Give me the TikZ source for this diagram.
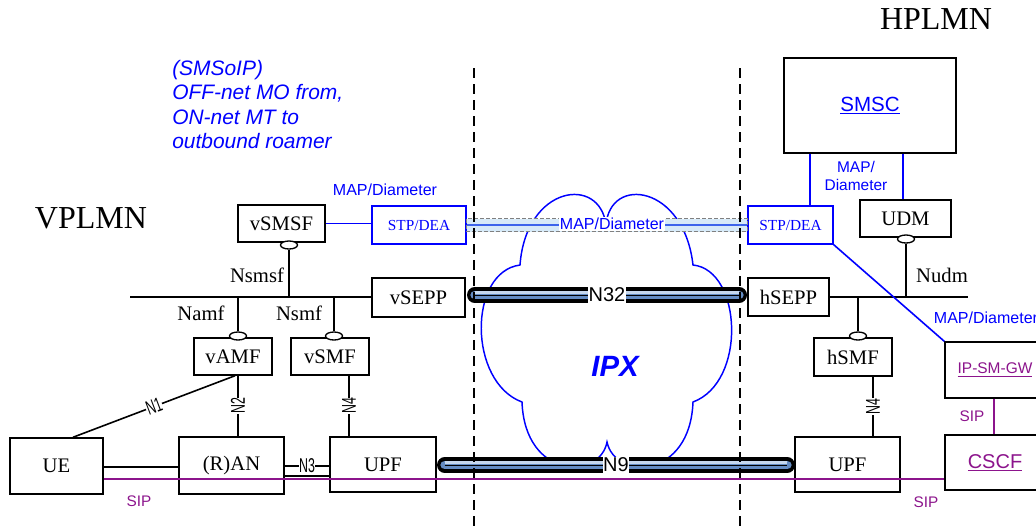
\documentclass[tikz,border=0pt]{standalone}
\usepackage{fontspec}
\setmainfont{Liberation Serif}
\setsansfont{Liberation Sans}
\usepackage{graphicx}
\usetikzlibrary{calc,shapes.geometric}
\definecolor{sipc}{RGB}{140,20,140}
\definecolor{pipeL}{RGB}{198,216,238}
\definecolor{pipeD}{RGB}{100,140,195}
\definecolor{mapfill}{RGB}{214,234,248}
\definecolor{mapline}{RGB}{60,100,235}
\def\pxu{0.75pt}
\newcommand\drawpipe[2]{%
 \draw[line width=11.6pt, line cap=round] #1 -- #2;
 \draw[line width=6.6pt, pipeD, line cap=round] #1 -- #2;
 \draw[line width=2.6pt, pipeL, transform canvas={yshift=1.7pt}] #1 -- #2;
 \draw[line width=0.7pt] #1 -- #2;
}
\newcommand\cond[1]{\scalebox{0.62}[1]{#1}}
\tikzset{
 box/.style={draw, line width=1.1pt, fill=white, inner sep=0pt, font=\fontsize{15.5}{18}\selectfont},
 bbox/.style={box, draw=blue, text=blue, font=\fontsize{11.5}{14}\selectfont},
 conn/.style={line width=1.2pt},
 bconn/.style={line width=1.2pt, blue},
 pconn/.style={line width=1.2pt, sipc},
 port/.style={draw, ellipse, line width=1pt, fill=white, inner sep=0pt, minimum width=17*\pxu, minimum height=8*\pxu},
 ilab/.style={font=\fontsize{15.5}{18}\selectfont},
 slab/.style={font=\sffamily\fontsize{12}{14}\selectfont, text=blue},
 siplab/.style={font=\sffamily\fontsize{11.5}{13}\selectfont, text=sipc},
 nlab/.style={font=\sffamily\fontsize{15}{16}\selectfont, fill=white, inner sep=0.3pt},
 notelab/.style={anchor=base west, inner sep=0pt, text=blue, font=\sffamily\itshape\fontsize{15.7}{18.75}\selectfont},
 dline/.style={line width=1.1pt, dash pattern=on 7.5pt off 4.5pt},
 plmn/.style={font=\fontsize{24}{28}\selectfont},
}
\begin{document}
\begin{tikzpicture}[x=0.75pt,y=-0.75pt]
\useasboundingbox (0,0) rectangle (1036,526);
\clip (0,0) rectangle (1036,526);

% IPX cloud
\draw[blue, line width=1.1pt] (520,265) .. controls (526,185) and (600,175) .. (606,225)
  .. controls (610,175) and (684,185) .. (693,265)
  .. controls (742,270) and (747,382) .. (693,402)
  .. controls (690,480) and (615,480) .. (607,442)
  .. controls (600,480) and (525,480) .. (522,402)
  .. controls (468,382) and (468,272) .. (520,265) -- cycle;
\node[text=blue, font=\sffamily\bfseries\itshape\fontsize{22}{26}\selectfont] (ipx) at (615,366) {IPX};

% titles and notes
\node[plmn] (vplmn) at (91,218.5) {VPLMN};
\node[plmn] (hplmn) at (936,19.5) {HPLMN};
\node[notelab] (n1) at (172,75) {(SMSoIP)};
\node[notelab] (n2) at (172,99.5) {OFF-net MO from,};
\node[notelab] (n3) at (172,124) {ON-net MT to};
\node[notelab] (n4) at (172,148.5) {outbound roamer};

% boxes
\node[box, minimum width=87*\pxu, minimum height=37*\pxu] (vsmsf) at (281.5,223.5) {vSMSF};
\node[bbox, minimum width=94*\pxu, minimum height=38*\pxu] (stpl) at (419,225) {STP/DEA};
\node[box, minimum width=93*\pxu, minimum height=39*\pxu] (vsepp) at (418.5,297.5) {vSEPP};
\node[box, minimum width=78*\pxu, minimum height=37*\pxu] (vamf) at (233,356.5) {vAMF};
\node[box, minimum width=78*\pxu, minimum height=37*\pxu] (vsmf) at (330,356.5) {vSMF};
\node[box, minimum width=93*\pxu, minimum height=56*\pxu] (ue) at (56.5,466) {UE};
\node[box, minimum width=105*\pxu, minimum height=57*\pxu] (ran) at (231.5,465.5) {(R)AN};
\node[box, minimum width=106*\pxu, minimum height=55*\pxu] (upfl) at (383,464.5) {UPF};
\node[box, minimum width=172*\pxu, minimum height=95*\pxu, text=blue, font=\sffamily\fontsize{15.4}{18}\selectfont] (smsc) at (870,105.5) {\underline{SMSC}};
\node[bbox, minimum width=85*\pxu, minimum height=38*\pxu] (stpr) at (790.5,225) {STP/DEA};
\node[box, minimum width=91*\pxu, minimum height=37*\pxu] (udm) at (905.5,218.5) {UDM};
\node[box, minimum width=81*\pxu, minimum height=38*\pxu] (hsepp) at (788.5,297) {hSEPP};
\node[box, minimum width=78*\pxu, minimum height=38*\pxu] (hsmf) at (853,357) {hSMF};
\node[box, minimum width=105*\pxu, minimum height=55*\pxu] (upfr) at (847.5,464.5) {UPF};
\node[box, minimum width=100*\pxu, minimum height=56*\pxu, text=sipc, font=\sffamily\fontsize{11.6}{14}\selectfont] (ipsmgw) at (995,370) {\underline{IP-SM-GW}};
\node[box, minimum width=100*\pxu, minimum height=55*\pxu, text=sipc, font=\sffamily\fontsize{15}{18}\selectfont] (cscf) at (995,462.5) {\underline{CSCF}};

% service buses
\coordinate (busl) at (130,297);
\coordinate (busr) at (968,297);
\draw[conn] (busl) -- (busl -| vsepp.west);
\draw[conn] (busr -| hsepp.east) -- (busr);
\node[port] (p1) at (289,245) {};
\node[port] (p2) at (238,336) {};
\node[port] (p3) at (334,336) {};
\node[port] (p4) at (906,239) {};
\node[port] (p5) at (858,336) {};
\draw[conn] (p1) -- (p1 |- busl);
\draw[conn] (p2) -- (p2 |- busl);
\draw[conn] (p3) -- (p3 |- busl);
\draw[conn] (p4) -- (p4 |- busr);
\draw[conn] (p5) -- (p5 |- busr);
\node[ilab] (lnsmsf) at (257,275) {Nsmsf};
\node[ilab] (lnamf) at (201,313) {Namf};
\node[ilab] (lnsmf) at (299,313) {Nsmf};
\node[ilab] (lnudm) at (942,275) {Nudm};

% reference points
\draw[conn] ($(ue.north)+(16.5,0)$) -- node[nlab, sloped] {\cond{N1}} ($(vamf.south)+(2,0)$);
\draw[conn] ($(vamf.south)+(5,0)$) -- node[nlab, rotate=90] {\cond{N2}} ($(ran.north)+(6.5,0)$);
\draw[conn] ($(vsmf.south)+(19,0)$) -- node[nlab, rotate=90] {\cond{N4}} ($(upfl.north)+(-34,0)$);
\draw[conn] ($(hsmf.south)+(20,0)$) -- node[nlab, rotate=90] {\cond{N4}} ($(upfr.north)+(25.5,0)$);
\draw[conn] ($(ue.east)+(0,1)$) -- ($(ran.west)+(0,1.5)$);
\draw[conn] ($(ran.east)+(0,0.5)$) -- node[nlab] {\cond{N3}} ($(upfl.west)+(0,1.5)$);
\draw[conn] ($(ran.east)+(0,10.5)$) -- ($(upfl.west)+(0,11.5)$);

% SIP
\draw[pconn] ($(ue.east)+(0,13)$) -- ($(cscf.west)+(0,16.5)$);
\draw[pconn] ($(ipsmgw.south)+(-1,0)$) -- ($(cscf.north)+(-1,0)$);
\node[siplab] (sip1) at (139,501) {SIP};
\node[siplab] (sip2) at (926,502) {SIP};
\node[siplab] (sip3) at (972,416) {SIP};

% MAP / Diameter signalling
\draw[bconn] (vsmsf.east) -- (vsmsf.east -| stpl.west);
\draw[bconn] ($(smsc.south)+(-60,0)$) -- ($(stpr.north)+(19.5,0)$);
\draw[bconn] ($(smsc.south)+(33,0)$) -- ($(udm.north)+(-2.5,0)$);
\draw[bconn] (stpr.south east) -- (ipsmgw.north west);
\node[slab] (map1) at (385,190) {MAP/Diameter};
\node[slab, align=center, font=\sffamily\fontsize{11.6}{14}\selectfont] (map2) at (856,176) {MAP/\\Diameter};
\node[slab] (map3) at (986,318) {MAP/Diameter};
\draw[gray, line width=0.6pt, dash pattern=on 3pt off 1.5pt, fill=mapfill] ($(stpl.east)+(0,-6.5)$) rectangle ($(stpr.west)+(0,6.5)$);
\draw[mapline, line width=1.8pt] (stpl.east) -- (stpr.west);
\node[slab, fill=white, inner sep=1pt] (mapp) at (612,224) {MAP/Diameter};

% pipes
\drawpipe{($(vsepp.east)+(9,-2.5)$)}{($(hsepp.west)+(-8,-2)$)}
\drawpipe{($(upfl.east)+(8,0.5)$)}{($(upfr.west)+(-7,0.5)$)}
\node[fill=white, inner sep=0.5pt, font=\sffamily\fontsize{15}{18}\selectfont] (n32) at (607,295) {N32};
\node[fill=white, inner sep=0.5pt, font=\sffamily\fontsize{15}{18}\selectfont] (n9) at (616,465) {N9};

% borders between networks
\coordinate (d1t) at (474,68); \coordinate (d1b) at (474,526);
\coordinate (d2t) at (740,68); \coordinate (d2b) at (740,526);
\draw[dline] (d1t) -- (d1b);
\draw[dline] (d2t) -- (d2b);
\end{tikzpicture}
\end{document}
